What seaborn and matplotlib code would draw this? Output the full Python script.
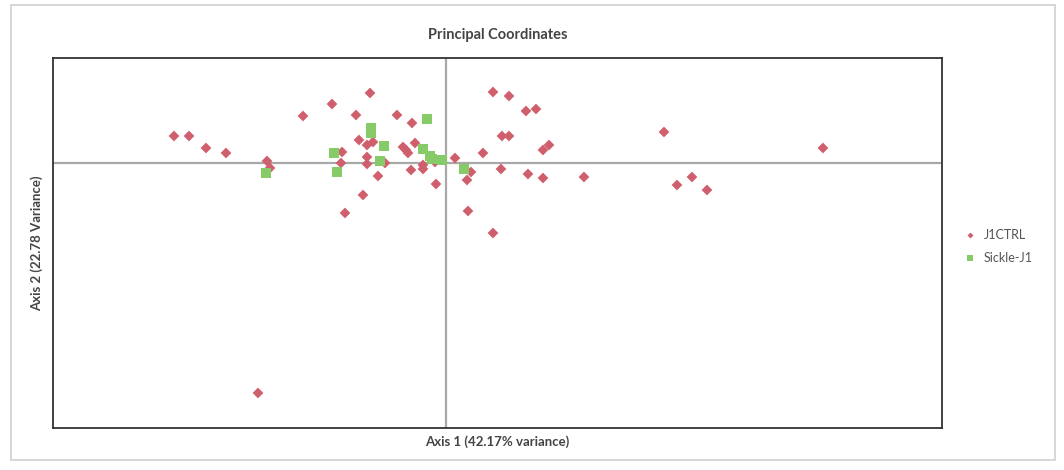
import pandas as pd
import matplotlib
matplotlib.use("Agg")
import matplotlib.pyplot as plt
import seaborn as sns
from matplotlib.patches import Rectangle

# PCoA scores (axis 1, axis 2)
ctrl_x = [-0.272, -0.257, -0.240, -0.220, -0.179, -0.176, -0.143, -0.114, -0.076, -0.090,
          -0.049, -0.034, -0.087, -0.079, -0.073, -0.043, -0.040, -0.038, -0.031, -0.104,
          -0.079, -0.105, -0.079, -0.061, -0.035, -0.023, -0.023, -0.011, 0.009, -0.068,
          -0.010, -0.083, -0.101, 0.025, 0.021, 0.022, 0.047, 0.047, 0.063, 0.080,
          0.090, 0.056, 0.063, 0.037, 0.097, 0.103, 0.055, 0.082, 0.097, 0.138,
          0.218, 0.377, 0.231, 0.246, 0.261, -0.188]
ctrl_y = [0.027, 0.027, 0.015, 0.010, 0.002, -0.005, 0.047, 0.059, 0.070, 0.048,
          0.048, 0.040, 0.023, 0.018, 0.021, 0.016, 0.013, 0.010, 0.020, 0.011,
          0.006, 0.000, -0.001, 0.000, -0.007, -0.002, -0.006, 0.001, 0.005, -0.013,
          -0.021, -0.032, -0.050, -0.009, -0.017, -0.048, -0.070, 0.071, 0.067, 0.052,
          0.054, 0.027, 0.027, 0.010, 0.013, 0.018, -0.006, -0.011, -0.015, -0.014,
          0.031, 0.015, -0.022, -0.014, -0.027, -0.230]

sickle_x = [-0.180, -0.112, -0.109, -0.075, -0.075, -0.062, -0.066, -0.019, -0.023,
            -0.016, -0.014, -0.004, 0.018]
sickle_y = [-0.010, 0.010, -0.009, 0.035, 0.030, 0.017, 0.002, 0.044, 0.014,
            0.007, 0.004, 0.003, -0.006]

groups = ["J1CTRL", "Sickle-J1"]

df = pd.DataFrame({
    "axis1": ctrl_x + sickle_x,
    "axis2": ctrl_y + sickle_y,
    "group": [groups[0]] * len(ctrl_x) + [groups[1]] * len(sickle_x),
})

sns.set_style("white")
plt.rcParams["font.family"] = ["Lato", "DejaVu Sans"]

fig = plt.figure(figsize=(10.64, 4.70), dpi=100)
ax = fig.add_axes([0.0498, 0.0894, 0.8355, 0.7872])

# zero lines
ax.axhline(0, color="#a8a8a8", lw=1.6, zorder=1)
ax.axvline(0, color="#a8a8a8", lw=1.6, zorder=1)

sns.scatterplot(
    data=df, x="axis1", y="axis2", hue="group", style="group", size="group",
    hue_order=groups, style_order=groups, size_order=groups,
    palette={"J1CTRL": "#d05f6d", "Sickle-J1": "#86cb68"},
    markers={"J1CTRL": "D", "Sickle-J1": "s"},
    sizes={"J1CTRL": 30, "Sickle-J1": 58},
    linewidth=0, ax=ax, zorder=3,
)

ax.set_xlim(-0.393, 0.496)
ax.set_ylim(-0.265, 0.105)
ax.set_xticks([])
ax.set_yticks([])
for sp in ax.spines.values():
    sp.set_visible(True)
    sp.set_color("#333333")
    sp.set_linewidth(1.3)

ax.set_xlabel("Axis 1 (42.17% variance)", fontsize=9.5, fontweight="bold", color="#444444", labelpad=5)
ax.set_ylabel("Axis 2 (22.78 Variance)", fontsize=9.5, fontweight="bold", color="#444444", labelpad=7)
ax.set_title("Principal Coordinates", fontsize=10.5, fontweight="bold", color="#444444", pad=14)

handles, labels = ax.get_legend_handles_labels()
ax.legend(handles, labels, loc="center left", bbox_to_anchor=(1.005, 0.49),
          frameon=False, fontsize=9, handletextpad=0.1, markerscale=0.55,
          labelcolor="#555555", labelspacing=0.9)

# outer chart border
fig.patches.append(Rectangle((0.0103, 0.021), 0.981, 0.968, transform=fig.transFigure,
                             fill=False, edgecolor="#cfcfcf", lw=1.2))

fig.savefig("out.png", dpi=100)
